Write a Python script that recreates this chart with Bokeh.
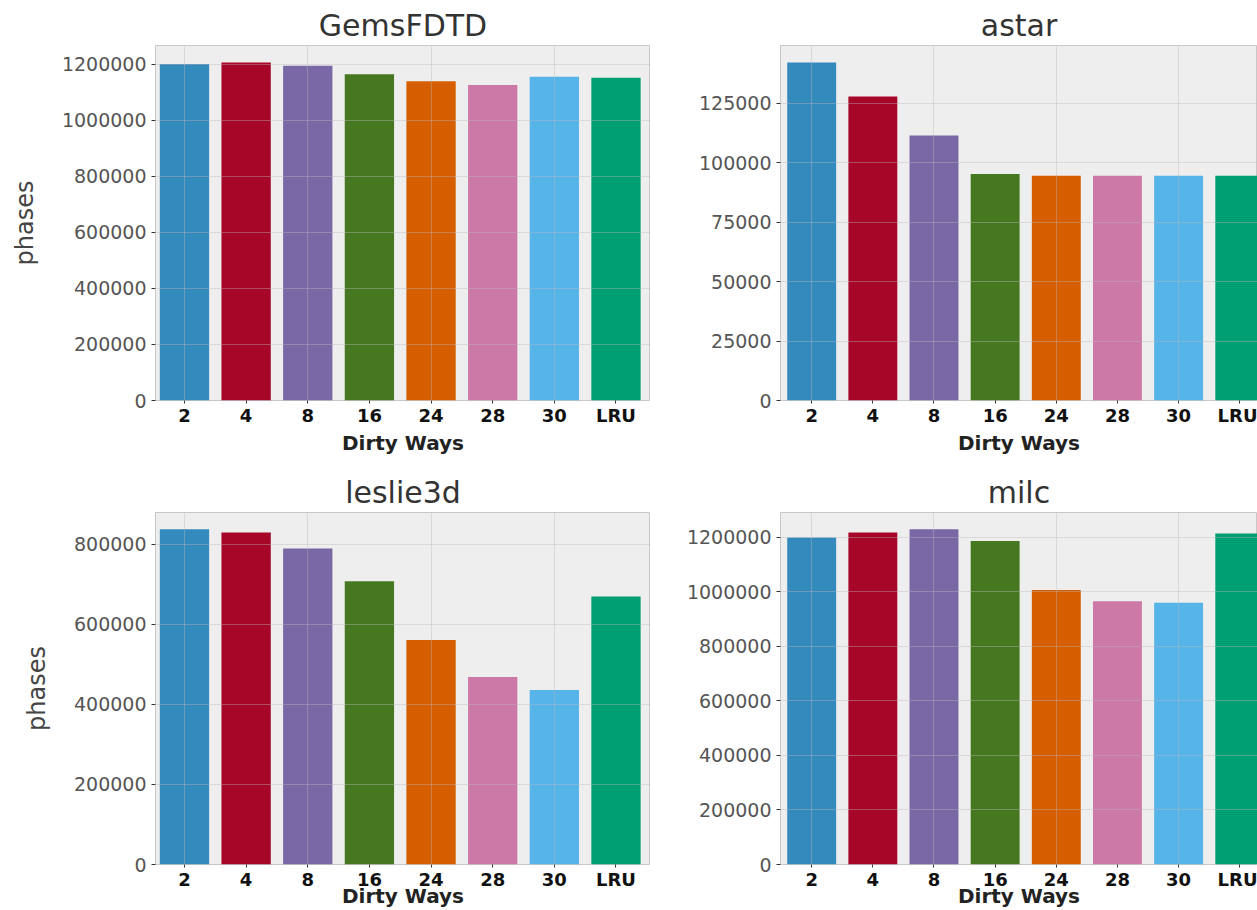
from bokeh.plotting import figure
from bokeh.models import Range1d, FixedTicker, BasicTickFormatter, ColumnDataSource
from bokeh.layouts import column, row
from bokeh.embed import file_html
from bokeh.resources import INLINE

# Dirty-way configurations (x categories)
ways = ["2", "4", "8", "16", "24", "28", "30", "LRU"]
bar_colors = ["#348ABD", "#A60628", "#7A68A6", "#467821",
              "#D55E00", "#CC79A7", "#56B4E9", "#009E73"]

# Phase counts per benchmark
gems_phases = [1200000, 1206000, 1194000, 1164000, 1139000, 1125000, 1155000, 1151000]
astar_phases = [142100, 127800, 111400, 95200, 94500, 94500, 94500, 94500]
leslie_phases = [838000, 830000, 790000, 708000, 561000, 469000, 436000, 670000]
milc_phases = [1200000, 1218000, 1230000, 1187000, 1007000, 966000, 960000, 1214000]

# y tick positions
gems_ticks = [0, 200000, 400000, 600000, 800000, 1000000, 1200000]
astar_ticks = [0, 25000, 50000, 75000, 100000, 125000]
leslie_ticks = [0, 200000, 400000, 600000, 800000]
milc_ticks = [0, 200000, 400000, 600000, 800000, 1000000, 1200000]

FONT = "DejaVu Sans"


def panel(title, values, yticks, width, height, left, top, bottom,
          x_start, x_end, ylabel=None, xlabel_standoff=2):
    p = figure(width=width, height=height, output_backend="svg",
               toolbar_location=None, tools="",
               x_range=Range1d(x_start, x_end),
               y_range=Range1d(0, max(values) * 1.05),
               min_border_left=left, min_border_right=0,
               min_border_top=top, min_border_bottom=bottom)
    src = ColumnDataSource(dict(x=list(range(len(ways))), top=values,
                                color=bar_colors))
    p.vbar(x="x", top="top", bottom=0, width=0.8, source=src,
           fill_color="color", line_color=None)

    p.background_fill_color = "#eeeeee"
    p.border_fill_color = "white"
    p.outline_line_color = "#c8c8c8"
    p.outline_line_width = 1

    p.title.text = title
    p.title.align = "center"
    p.title.text_font = FONT
    p.title.text_font_size = "30px"
    p.title.text_font_style = "normal"
    p.title.text_color = "#333333"
    p.title.standoff = 6

    # grid drawn over the bars, faint
    for g in (p.xgrid, p.ygrid):
        g.level = "overlay"
        g.grid_line_color = "#b8b8b8"
        g.grid_line_alpha = 0.4
        g.grid_line_width = 1
    p.xgrid.ticker = FixedTicker(ticks=[0, 2, 4, 6])
    p.ygrid.ticker = FixedTicker(ticks=yticks)

    xa = p.xaxis[0]
    xa.ticker = FixedTicker(ticks=list(range(len(ways))))
    xa.major_label_overrides = {i: w for i, w in enumerate(ways)}
    xa.axis_line_color = None
    xa.major_tick_in = 0
    xa.major_tick_out = 3
    xa.major_tick_line_color = "#333333"
    xa.minor_tick_line_color = None
    xa.major_label_standoff = 1
    xa.major_label_text_font = FONT
    xa.major_label_text_font_size = "18px"
    xa.major_label_text_font_style = "bold"
    xa.major_label_text_color = "#111111"
    xa.axis_label = "Dirty Ways"
    xa.axis_label_text_font = FONT
    xa.axis_label_text_font_size = "20px"
    xa.axis_label_text_font_style = "bold"
    xa.axis_label_text_color = "#222222"
    xa.axis_label_standoff = xlabel_standoff

    ya = p.yaxis[0]
    ya.ticker = FixedTicker(ticks=yticks)
    ya.formatter = BasicTickFormatter(use_scientific=False)
    ya.axis_line_color = None
    ya.major_tick_in = 0
    ya.major_tick_out = 4
    ya.major_tick_line_color = "#333333"
    ya.minor_tick_line_color = None
    ya.major_label_standoff = 5
    ya.major_label_text_font = FONT
    ya.major_label_text_font_size = "19px"
    ya.major_label_text_color = "#555555"
    if ylabel:
        ya.axis_label = ylabel
        ya.axis_label_text_font = FONT
        ya.axis_label_text_font_size = "24px"
        ya.axis_label_text_font_style = "normal"
        ya.axis_label_text_color = "#444444"
        ya.axis_label_standoff = 20
    return p


tl = panel("GemsFDTD", gems_phases, gems_ticks, 650, 458, 155, 45, 58,
           -0.47, 7.56, ylabel="phases")
tr = panel("astar", astar_phases, astar_ticks, 607, 458, 130, 45, 58,
           -0.51, 7.29)
bl = panel("leslie3d", leslie_phases, leslie_ticks, 650, 452, 155, 54, 44,
           -0.47, 7.56, ylabel="phases", xlabel_standoff=-9)
br = panel("milc", milc_phases, milc_ticks, 607, 452, 130, 54, 44,
           -0.51, 7.29, xlabel_standoff=-9)

layout = column(row(tl, tr), row(bl, br))

with open("out.html", "w") as f:
    f.write(file_html(layout, INLINE))
